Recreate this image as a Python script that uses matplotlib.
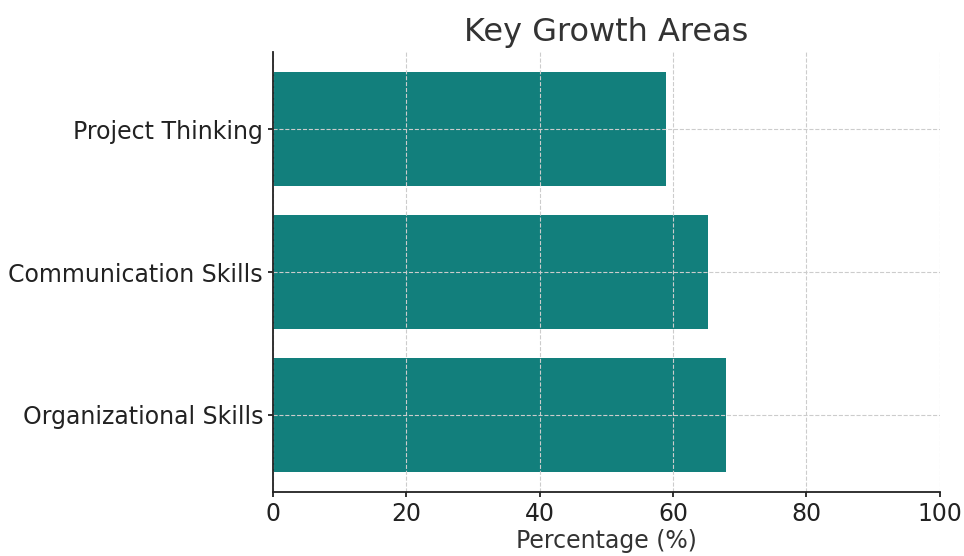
import matplotlib
matplotlib.use("Agg")
import matplotlib.pyplot as plt

# dados
areas = ["Organizational Skills", "Communication Skills", "Project Thinking"]
percentuais = [68, 65.3, 59]
ticks_x = [0, 20, 40, 60, 80, 100]

fig = plt.figure(figsize=(9.64, 5.56), dpi=100)
ax = fig.add_axes([0.283, 0.115, 0.692, 0.791])

ax.barh(areas, percentuais, color="#127f7c")
ax.set_xlim(0, 100)
ax.set_xticks(ticks_x)

# grade tracejada por cima das barras
ax.grid(True, linestyle="--", color="#cccccc", linewidth=0.8)
ax.set_axisbelow(False)

ax.spines["top"].set_visible(False)
ax.spines["right"].set_visible(False)
for lado in ["left", "bottom"]:
    ax.spines[lado].set_color("#222222")
    ax.spines[lado].set_linewidth(1.3)
    ax.spines[lado].set_zorder(5)

ax.tick_params(axis="both", labelsize=17, colors="#222222", width=1.3)
ax.set_title("Key Growth Areas", fontsize=23, color="#333333", pad=8)
ax.set_xlabel("Percentage (%)", fontsize=17, color="#333333", labelpad=2)

fig.savefig("out.png", dpi=100)
